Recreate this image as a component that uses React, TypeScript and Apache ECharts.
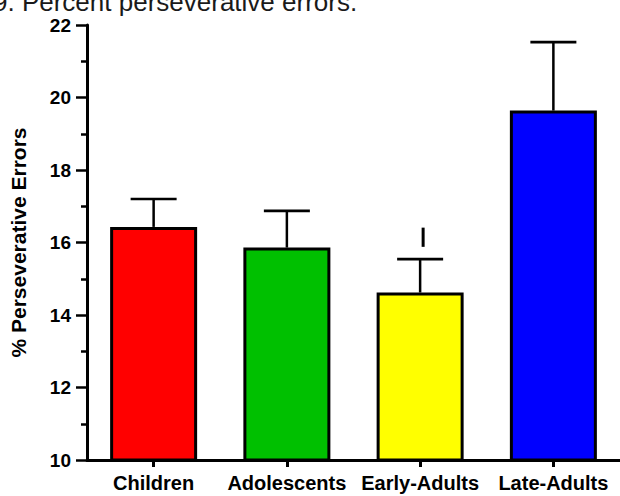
import React, { useEffect, useRef } from "react";
import * as echarts from "echarts";

const categories = ["Children", "Adolescents", "Early-Adults", "Late-Adults"];
const means = [16.43, 15.86, 14.62, 19.64];
const upperErrors = [17.2, 16.87, 15.54, 21.53];
const barColors = ["#ff0000", "#00c000", "#ffff00", "#0000ff"];
// significance marker above Early-Adults: [categoryIndex, low, high]
const markerIndex = 2;
const markerLow = 15.88;
const markerHigh = 16.41;
const yTicks = [10, 12, 14, 16, 18, 20, 22];

const FONT = 'Arial, "Liberation Sans", Helvetica, sans-serif';

export default function App() {
  const ref = useRef<HTMLDivElement>(null);

  useEffect(() => {
    document.body.style.margin = "0";
    const chart = echarts.init(ref.current!, null, { renderer: "svg" });

    const errData = categories.map((_, i) => [i, means[i], upperErrors[i]]);
    const markData = [[markerIndex, markerLow, markerHigh]];

    chart.setOption({
      animation: false,
      backgroundColor: "#ffffff",
      textStyle: { fontFamily: FONT },
      graphic: [
        {
          type: "text",
          left: -7,
          top: -11,
          style: {
            text: "9. Percent perseverative errors.",
            font: `26px ${FONT}`,
            fill: "#1a1a1a",
          },
        },
      ],
      grid: { left: 85, top: 25, width: 537, height: 435 },
      xAxis: {
        type: "category",
        data: categories,
        axisLine: { show: true, lineStyle: { color: "#000", width: 3 } },
        axisTick: { show: true, alignWithLabel: true, length: 7, lineStyle: { color: "#000", width: 3 } },
        axisLabel: { color: "#000", fontWeight: "bold", fontSize: 20, fontFamily: FONT, margin: 13, interval: 0 },
        splitLine: { show: false },
      },
      yAxis: {
        type: "value",
        min: yTicks[0],
        max: yTicks[yTicks.length - 1],
        interval: 2,
        name: "% Perseverative Errors",
        nameLocation: "middle",
        nameRotate: 90,
        nameGap: 58,
        nameTextStyle: { color: "#000", fontWeight: "bold", fontSize: 21, fontFamily: FONT },
        axisLine: { show: true, lineStyle: { color: "#000", width: 3 } },
        axisTick: { show: true, length: 11, lineStyle: { color: "#000", width: 2.5 } },
        minorTick: { show: true, splitNumber: 2, length: 6, lineStyle: { color: "#000", width: 2.5 } },
        axisLabel: { color: "#000", fontWeight: "bold", fontSize: 19, fontFamily: FONT, margin: 16 },
        splitLine: { show: false },
      },
      series: [
        {
          type: "bar",
          data: means.map((v, i) => ({
            value: v,
            itemStyle: { color: barColors[i], borderColor: "#000", borderWidth: 3 },
          })),
          barWidth: 87,
          z: 2,
        },
        {
          type: "custom",
          z: 3,
          data: errData,
          encode: { x: 0, y: [1, 2] },
          renderItem: (params: any, api: any) => {
            const x = api.value(0);
            const base = api.coord([x, api.value(1)]);
            const top = api.coord([x, api.value(2)]);
            const half = 23;
            return {
              type: "group",
              children: [
                {
                  type: "line",
                  shape: { x1: base[0], y1: base[1], x2: top[0], y2: top[1] },
                  style: { stroke: "#000", lineWidth: 2.5 },
                },
                {
                  type: "line",
                  shape: { x1: top[0] - half, y1: top[1], x2: top[0] + half, y2: top[1] },
                  style: { stroke: "#000", lineWidth: 2.7 },
                },
              ],
            };
          },
        },
        {
          type: "custom",
          z: 3,
          data: markData,
          encode: { x: 0, y: [1, 2] },
          renderItem: (params: any, api: any) => {
            const x = api.value(0);
            const lo = api.coord([x, api.value(1)]);
            const hi = api.coord([x, api.value(2)]);
            return {
              type: "line",
              shape: { x1: lo[0] + 3, y1: lo[1], x2: hi[0] + 3, y2: hi[1] },
              style: { stroke: "#000", lineWidth: 3 },
            };
          },
        },
      ],
    });

    return () => chart.dispose();
  }, []);

  return (
    <div
      ref={ref}
      style={{ position: "fixed", left: 0, top: 0, width: 620, height: 496 }}
    />
  );
}
